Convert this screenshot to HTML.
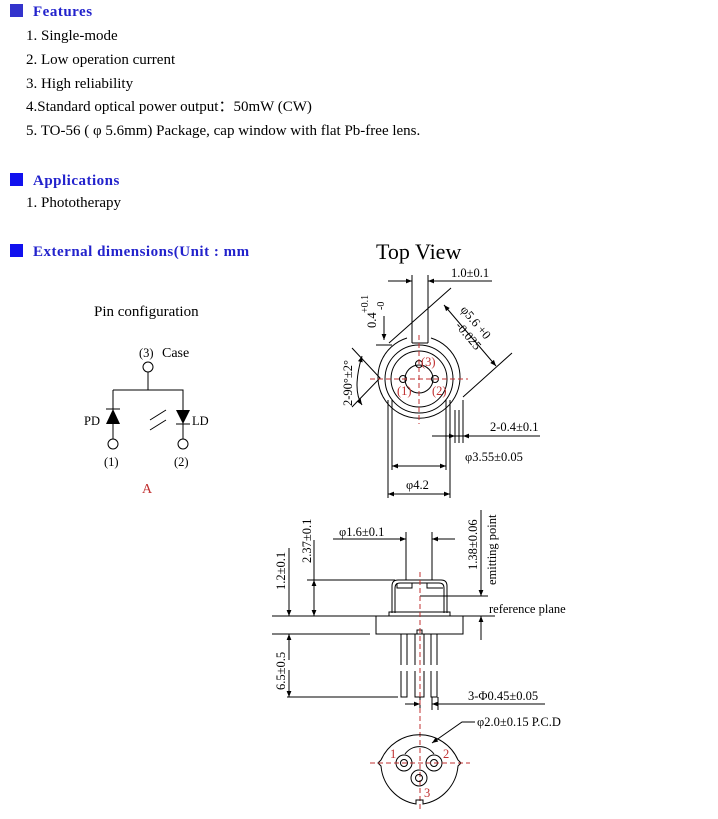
<!DOCTYPE html>
<html><head><meta charset="utf-8"><style>
body{margin:0;background:#fff;width:718px;height:819px;overflow:hidden}
svg{display:block}
text{font-family:"Liberation Serif",serif;fill:#000}
.h{fill:#2222cc;font-weight:bold;font-size:15px;letter-spacing:0.5px}
.t{font-size:15px}
.s{font-size:12.5px}
.r{fill:#c03030}
</style></head><body>
<svg width="718" height="819" viewBox="0 0 718 819">
<defs><marker id="a" viewBox="0 0 10 10" refX="10" refY="5" markerWidth="8" markerHeight="6" orient="auto-start-reverse"><path d="M0,1L10,5L0,9z" fill="#000"/></marker></defs>
<rect x="10" y="4" width="13" height="13" fill="#3333cc"/>
<text class="h" x="33" y="16">Features</text>
<text class="t" x="26" y="40">1. Single-mode</text>
<text class="t" x="26" y="64">2. Low operation current</text>
<text class="t" x="26" y="88">3. High reliability</text>
<text class="t" x="26" y="111">4.Standard optical power output：50mW (CW)</text>
<text class="t" x="26" y="135">5. TO-56 ( φ 5.6mm) Package, cap window with flat Pb-free lens.</text>
<rect x="10" y="173" width="13" height="13" fill="#1111ee"/>
<text class="h" x="33" y="185">Applications</text>
<text class="t" x="26" y="207">1. Phototherapy</text>
<rect x="10" y="244" width="13" height="13" fill="#1111ee"/>
<text class="h" x="33" y="256">External dimensions(Unit : mm</text>
<text x="376" y="259" font-size="22">Top View</text>

<!-- pin configuration -->
<text class="t" x="94" y="316">Pin configuration</text>
<text class="s" x="139" y="357">(3)</text><text x="162" y="357" font-size="14">Case</text>
<g stroke="#000" fill="none" stroke-width="1">
<circle cx="148" cy="367" r="5"/>
<path d="M148 372V390M113 390H183V439M113 390V439M106 409H120M176 424H190"/>
<circle cx="113" cy="444" r="5"/><circle cx="183" cy="444" r="5"/>
<path d="M150 420L166 410M150 430L166 420"/>
</g>
<path d="M113 409L106 424H120z" fill="#000"/>
<path d="M176 410H190L183 424z" fill="#000"/>
<text class="s" x="84" y="425">PD</text><text class="s" x="192" y="425">LD</text>
<text class="s" x="104" y="466">(1)</text><text class="s" x="174" y="466">(2)</text>
<text class="r" x="142" y="493" font-size="14">A</text>

<!-- top view -->
<g stroke="#000" fill="none" stroke-width="1">
<path d="M412 275V343M428 275V343M388 281H412M428 281H492"/>
<path d="M407 338A41 41 0 1 0 431 338M412 343H428"/>
<circle cx="419" cy="379" r="34"/><circle cx="419" cy="379" r="28"/><circle cx="419" cy="379" r="14"/>
<circle cx="403" cy="379" r="3.5"/><circle cx="435" cy="379" r="3.5"/><circle cx="419" cy="364" r="3.5"/>
<path d="M352 348L380 378L352 407M389 343L451 288M463 397L512 353"/>
<path d="M444 305L496 366" marker-start="url(#a)" marker-end="url(#a)"/>
<path d="M362 405Q352 390 362 356" marker-start="url(#a)" marker-end="url(#a)"/>
<path d="M384 316V340" marker-end="url(#a)"/>
<path d="M376 345H392"/>
<path d="M388 400V498M392 400V470M446 400V470M450 400V498M455 410V443M459 410V443M463 400V443"/>
<path d="M392 466H446" marker-start="url(#a)" marker-end="url(#a)"/>
<path d="M388 494H450" marker-start="url(#a)" marker-end="url(#a)"/>
<path d="M432 436H540M470 436H464" />
<path d="M440 436H455" marker-end="url(#a)"/>
<path d="M478 436H463" marker-end="url(#a)"/>
<path d="M397 281H412" marker-end="url(#a)"/><path d="M443 281H428" marker-end="url(#a)"/>
</g>
<g stroke="#c03030" stroke-width="1" stroke-dasharray="5,3" fill="none">
<path d="M370 379H468M419 335V424"/>
</g>
<text class="r s" x="421" y="366">(3)</text><text class="r s" x="397" y="395">(1)</text><text class="r s" x="432" y="395">(2)</text>
<text class="s" x="451" y="277">1.0±0.1</text>
<text class="s" transform="translate(376,328) rotate(-90)">0.4</text>
<text font-size="10" transform="translate(368,313) rotate(-90)">+0.1</text>
<text font-size="10" transform="translate(384,310) rotate(-90)">-0</text>
<text class="s" transform="translate(352,406) rotate(-90)">2-90°±2°</text>
<text class="s" transform="translate(460,310) rotate(50)">φ5.6 +0</text>
<text class="s" transform="translate(455,326) rotate(50)">-0.025</text>
<text class="s" x="490" y="431">2-0.4±0.1</text>
<text class="s" x="465" y="461">φ3.55±0.05</text>
<text class="s" x="406" y="489">φ4.2</text>

<!-- side view -->
<g stroke="#000" fill="none" stroke-width="1">
<path d="M406 532V580M432 532V580M333 539H406M455 539H432"/>
<path d="M390 539H406" marker-end="url(#a)"/><path d="M448 539H432" marker-end="url(#a)"/>
<path d="M392 613V586Q392 580 398 580H441Q447 580 447 586V613"/>
<path d="M395 613V588Q395 583 400 583H439Q444 583 444 588V613M397 583V588H412V583M427 583V588H443"/>
<rect x="389" y="612" width="61" height="4"/>
<rect x="376" y="616" width="87" height="18"/>
<path d="M401 634V665M407 634V665M415 634V665M424 634V665M431 634V665M437 634V665"/>
<path d="M401 671V697H407V671M415 671V697H424V671M431 671V697H437V671"/>
<path d="M417 634V630H422V634"/>
<path d="M307 580H395M272 616H376M272 634H370M287 697H398M463 616H495"/>
<path d="M420 596H488"/>
<path d="M289 548V616" marker-end="url(#a)"/><path d="M289 660V634" marker-end="url(#a)"/><path d="M289 670V697" marker-end="url(#a)"/>
<path d="M314 540V580" /><path d="M314 600V580" marker-end="url(#a)"/><path d="M314 600V616" marker-end="url(#a)"/>
<path d="M481 510V596" marker-end="url(#a)"/><path d="M481 640V616" marker-end="url(#a)"/>
<path d="M420 697V710M432 697V710M438 697V710"/>
<path d="M405 704H420" marker-end="url(#a)"/><path d="M545 704H432" marker-end="url(#a)"/>
</g>
<path d="M420 572V812" stroke="#c03030" stroke-dasharray="5,3" fill="none"/>
<text class="s" transform="translate(285,590) rotate(-90)">1.2±0.1</text>
<text class="s" transform="translate(311,563) rotate(-90)">2.37±0.1</text>
<text class="s" transform="translate(285,690) rotate(-90)">6.5±0.5</text>
<text class="s" transform="translate(477,570) rotate(-90)">1.38±0.06</text>
<text class="s" transform="translate(496,585) rotate(-90)">emitting point</text>
<text class="s" x="339" y="536">φ1.6±0.1</text>
<text class="s" x="489" y="613">reference plane</text>
<text class="s" x="468" y="700">3-Φ0.45±0.05</text>
<text class="s" x="477" y="726">φ2.0±0.15 P.C.D</text>

<!-- bottom view -->
<g stroke="#000" fill="none" stroke-width="1">
<path d="M381 760A42 42 0 0 1 458 760L461 763L458 766A42 42 0 0 1 423 804V800H416V804A42 42 0 0 1 381 766L378 763z"/>
<path d="M405 754A18 18 0 0 1 434 754"/>
<circle cx="404" cy="763" r="8"/><circle cx="404" cy="763" r="3.5"/>
<circle cx="434" cy="763" r="8"/><circle cx="434" cy="763" r="3.5"/>
<circle cx="419" cy="778" r="8"/><circle cx="419" cy="778" r="3.5"/>
<path d="M475 722H462L432 743" marker-end="url(#a)"/>
</g>
<path d="M370 763H470" stroke="#c03030" stroke-dasharray="5,3" fill="none"/>
<text class="r s" x="390" y="758">1</text><text class="r s" x="443" y="758">2</text><text class="r s" x="424" y="797">3</text>
</svg>
</body></html>
